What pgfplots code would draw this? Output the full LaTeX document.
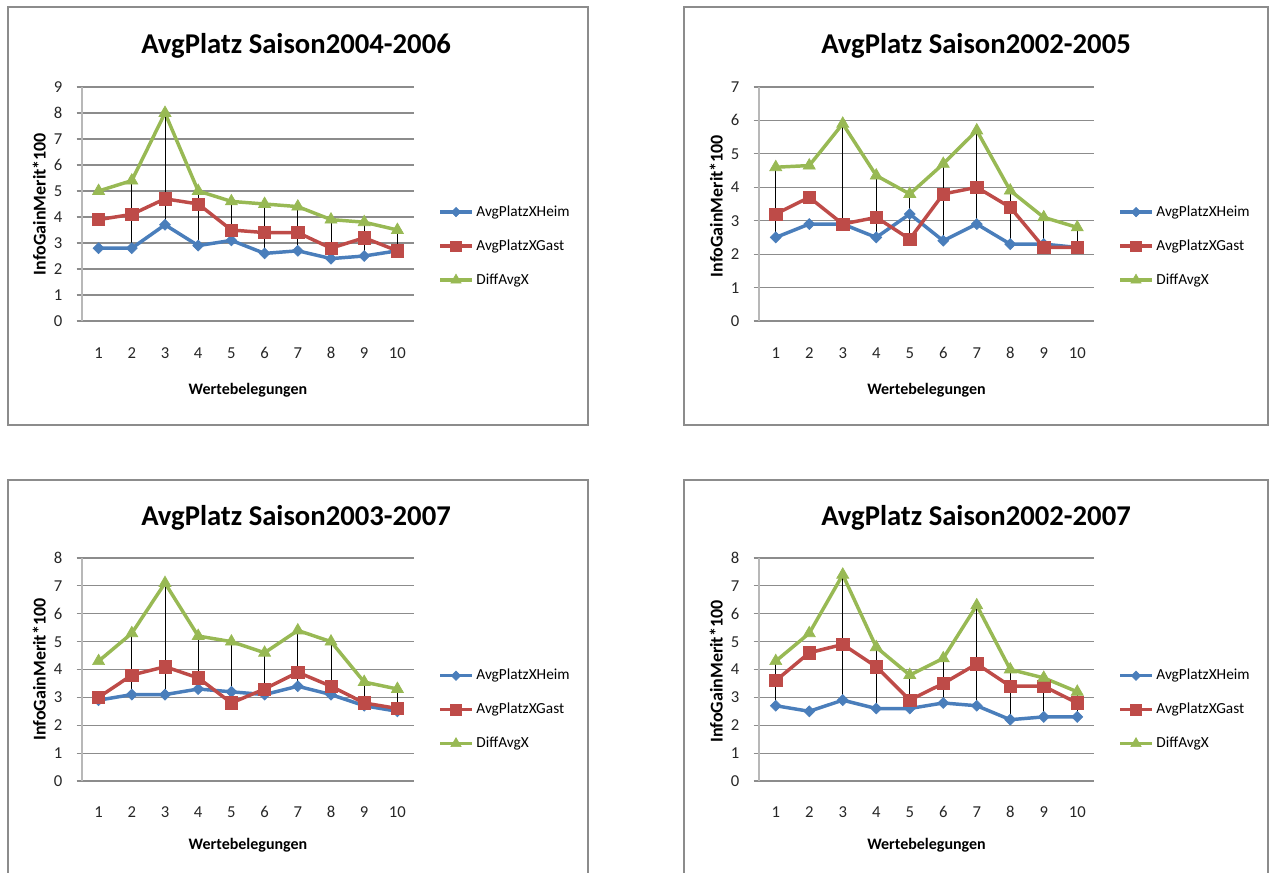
\documentclass[border=0pt]{standalone}
\usepackage{pgfplots}
\pgfplotsset{compat=1.18}
\usepackage{fontspec}
\setmainfont{Carlito}

\definecolor{heim}{HTML}{4A7EBB}
\definecolor{gast}{HTML}{BE4B48}
\definecolor{diff}{HTML}{98B954}
\definecolor{frame}{HTML}{8C8C8C}

\pgfplotsset{
  panel/.style 2 args={
    scale only axis,
    anchor=south west,
    xmin=0.5, xmax=10.5,
    ymin=0,
    xtick={1,...,10},
    ytick distance=1,
    axis x line=bottom,
    axis y line=left,
    x axis line style={-, draw=black!45, line width=0.8pt},
    y axis line style={-, draw=black!28, line width=1pt},
    xtick style={draw=none},
    ytick style={draw=black!45, line width=0.8pt},
    tick align=outside,
    major tick length=4pt,
    ymajorgrids,
    grid style={black!45, line width=0.8pt},
    /pgf/number format/assume math mode=true,
    tick label style={font=\fontsize{12.5}{14}\selectfont, text=black!85,
      text height=8.2pt, text depth=0pt},
    x tick label style={anchor=center, yshift=-#1},
    y tick label style={anchor=center, xshift=-14pt},
    xlabel={Wertebelegungen},
    ylabel={InfoGainMerit*100},
    every axis x label/.style={at={(0.5,0)}, anchor=center, yshift=-#2,
      font=\fontsize{12}{14}\selectfont\bfseries},
    every axis y label/.style={at={(0,0.5)}, xshift=-32pt, anchor=center, rotate=90,
      font=\fontsize{13.5}{15}\selectfont\bfseries},
    legend style={at={(1,0.32)}, anchor=west, xshift=18pt, draw=none, fill=none,
      inner sep=0pt, row sep=13.5pt,
      font=\fontsize{11.5}{13}\selectfont,
      nodes={inner xsep=2pt, inner ysep=0pt, text height=9pt, text depth=3pt}},
    legend cell align=left,
    legend image code/.code={
      \draw[mark repeat=2, mark phase=2, /tikz/every mark/.append style={scale=0.85}]
        plot coordinates {(0pt,0pt) (12pt,0pt) (24pt,0pt)};},
  },
  heimS/.style={color=heim, line width=2.6pt, mark=square*, mark size=2.9pt,
    mark options={rotate=45, fill=heim, line width=0.5pt}},
  gastS/.style={color=gast, line width=2.6pt, mark=square*, mark size=4.6pt,
    mark options={fill=gast, line width=0.5pt}},
  diffS/.style={color=diff, line width=2.6pt, mark=triangle*, mark size=5.2pt,
    mark options={fill=diff, line width=0.5pt}},
  hilo/.style={black, line width=0.75pt, forget plot, unbounded coords=jump, mark=none},
}

\newcommand{\titlefont}{\fontsize{21.5}{24}\selectfont\bfseries}

\begin{document}
\begin{tikzpicture}
\path[use as bounding box] (0,0) rectangle (953.25pt,654pt);

% panel frames
\draw[frame, line width=1.3pt] (6pt,335.25pt) rectangle (441pt,648.75pt);
\draw[frame, line width=1.3pt] (513pt,335.25pt) rectangle (951pt,648.75pt);
\draw[frame, line width=1.3pt] (6pt,-5pt) rectangle (441pt,294pt);
\draw[frame, line width=1.3pt] (513pt,-5pt) rectangle (951pt,294pt);

% titles
\node[anchor=base] at (222pt,614pt) {\titlefont AvgPlatz Saison2004-2006};
\node[anchor=base] at (732pt,614pt) {\titlefont AvgPlatz Saison2002-2005};
\node[anchor=base] at (222pt,259.5pt) {\titlefont AvgPlatz Saison2003-2007};
\node[anchor=base] at (732pt,259.5pt) {\titlefont AvgPlatz Saison2002-2007};

% Saison 2004-2006
\begin{axis}[panel={20pt}{52pt}, at={(61.5pt,413.25pt)}, width=249pt, height=175.5pt, ymax=9]
\addplot[heimS] coordinates {(1,2.8) (2,2.8) (3,3.7) (4,2.9) (5,3.1) (6,2.6) (7,2.7) (8,2.4) (9,2.5) (10,2.7)};
\addlegendentry{AvgPlatzXHeim}
\addplot[gastS] coordinates {(1,3.9) (2,4.1) (3,4.7) (4,4.5) (5,3.5) (6,3.4) (7,3.4) (8,2.8) (9,3.2) (10,2.7)};
\addlegendentry{AvgPlatzXGast}
\addplot[diffS] coordinates {(1,5.0) (2,5.4) (3,8.0) (4,5.0) (5,4.6) (6,4.5) (7,4.4) (8,3.9) (9,3.8) (10,3.5)};
\addlegendentry{DiffAvgX}
\addplot[hilo] coordinates {(2,2.8) (2,5.4) (2,nan) (3,3.7) (3,8.0) (3,nan) (4,2.9) (4,5.0) (4,nan)
  (5,3.1) (5,4.6) (5,nan) (6,2.6) (6,4.5) (6,nan) (7,2.7) (7,4.4) (7,nan) (8,2.4) (8,3.9) (8,nan)
  (9,2.5) (9,3.8) (9,nan) (10,2.7) (10,3.5)};
\end{axis}

% Saison 2002-2005
\begin{axis}[panel={20pt}{52pt}, at={(569.25pt,413.25pt)}, width=251.25pt, height=175.5pt, ymax=7,
  every axis y label/.append style={xshift=-1.5pt}]
\addplot[heimS] coordinates {(1,2.5) (2,2.9) (3,2.9) (4,2.5) (5,3.2) (6,2.4) (7,2.9) (8,2.3) (9,2.3) (10,2.2)};
\addlegendentry{AvgPlatzXHeim}
\addplot[gastS] coordinates {(1,3.2) (2,3.7) (3,2.9) (4,3.1) (5,2.45) (6,3.8) (7,4.0) (8,3.4) (9,2.2) (10,2.2)};
\addlegendentry{AvgPlatzXGast}
\addplot[diffS] coordinates {(1,4.6) (2,4.65) (3,5.9) (4,4.35) (5,3.8) (6,4.7) (7,5.7) (8,3.9) (9,3.1) (10,2.8)};
\addlegendentry{DiffAvgX}
\addplot[hilo] coordinates {(1,2.5) (1,4.6) (1,nan) (3,2.9) (3,5.9) (3,nan) (4,2.5) (4,4.35) (4,nan)
  (5,2.45) (5,3.8) (5,nan) (6,2.4) (6,4.7) (6,nan) (7,2.9) (7,5.7) (7,nan) (8,2.3) (8,3.9) (8,nan)
  (9,2.2) (9,3.1) (9,nan) (10,2.2) (10,2.8)};
\end{axis}

% Saison 2003-2007
\begin{axis}[panel={19pt}{48.5pt}, at={(61.5pt,68.25pt)}, width=249pt, height=167.25pt, ymax=8]
\addplot[heimS] coordinates {(1,2.9) (2,3.1) (3,3.1) (4,3.3) (5,3.2) (6,3.1) (7,3.4) (8,3.1) (9,2.7) (10,2.5)};
\addlegendentry{AvgPlatzXHeim}
\addplot[gastS] coordinates {(1,3.0) (2,3.8) (3,4.1) (4,3.7) (5,2.8) (6,3.3) (7,3.9) (8,3.4) (9,2.8) (10,2.6)};
\addlegendentry{AvgPlatzXGast}
\addplot[diffS] coordinates {(1,4.3) (2,5.3) (3,7.1) (4,5.2) (5,5.0) (6,4.6) (7,5.4) (8,5.0) (9,3.55) (10,3.3)};
\addlegendentry{DiffAvgX}
\addplot[hilo] coordinates {(2,3.1) (2,5.3) (2,nan) (3,3.1) (3,7.1) (3,nan) (4,3.3) (4,5.2) (4,nan)
  (5,2.8) (5,5.0) (5,nan) (6,3.1) (6,4.6) (6,nan) (7,3.4) (7,5.4) (7,nan) (8,3.1) (8,5.0) (8,nan)
  (9,2.7) (9,3.55) (9,nan) (10,2.5) (10,3.3)};
\end{axis}

% Saison 2002-2007
\begin{axis}[panel={19pt}{48.5pt}, at={(569.25pt,68.25pt)}, width=251.25pt, height=167.25pt, ymax=8,
  every axis y label/.append style={xshift=-1.5pt}]
\addplot[heimS] coordinates {(1,2.7) (2,2.5) (3,2.9) (4,2.6) (5,2.6) (6,2.8) (7,2.7) (8,2.2) (9,2.3) (10,2.3)};
\addlegendentry{AvgPlatzXHeim}
\addplot[gastS] coordinates {(1,3.6) (2,4.6) (3,4.9) (4,4.1) (5,2.9) (6,3.5) (7,4.2) (8,3.4) (9,3.4) (10,2.8)};
\addlegendentry{AvgPlatzXGast}
\addplot[diffS] coordinates {(1,4.3) (2,5.3) (3,7.4) (4,4.8) (5,3.8) (6,4.4) (7,6.3) (8,4.0) (9,3.7) (10,3.2)};
\addlegendentry{DiffAvgX}
\addplot[hilo] coordinates {(1,2.7) (1,4.3) (1,nan) (3,2.9) (3,7.4) (3,nan) (4,2.6) (4,4.8) (4,nan)
  (5,2.6) (5,3.8) (5,nan) (6,2.8) (6,4.4) (6,nan) (7,2.7) (7,6.3) (7,nan) (8,2.2) (8,4.0) (8,nan)
  (9,2.3) (9,3.7) (9,nan) (10,2.3) (10,3.2)};
\end{axis}
\end{tikzpicture}
\end{document}
